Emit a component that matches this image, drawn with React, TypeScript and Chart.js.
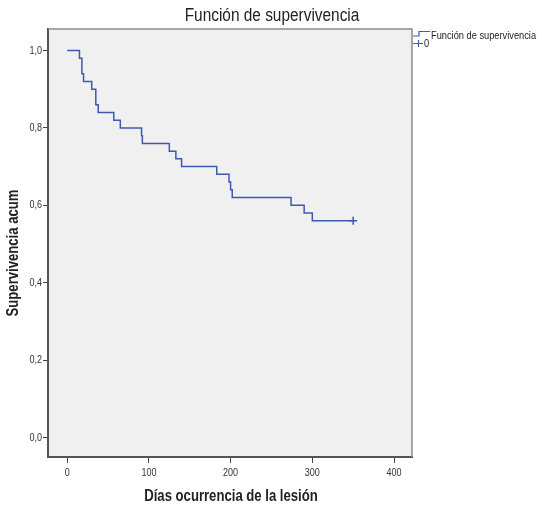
import React, { useEffect, useRef } from 'react';
import { Chart, registerables } from 'chart.js';

Chart.register(...registerables);

const survTimes = [0, 15, 18, 20, 30, 35, 38, 57, 65, 91, 92, 125, 133, 140, 183, 198, 200, 202, 274, 290, 300, 350];
const survValues = [1.0, 0.98, 0.94, 0.92, 0.9, 0.86, 0.84, 0.82, 0.8, 0.78, 0.76, 0.74, 0.72, 0.7, 0.68, 0.66, 0.64, 0.62, 0.6, 0.58, 0.56, 0.56];
const censorTimes = [350];
const censorValues = [0.56];
const xTicks = [0, 100, 200, 300, 400];
const yTicks = [0, 0.2, 0.4, 0.6, 0.8, 1.0];
const titleText = 'Función de supervivencia';
const xTitle = 'Días ocurrencia de la lesión';
const yTitle = 'Supervivencia acum';
const legendLabels = ['Función de supervivencia', '0'];

const FONT = "'Liberation Sans', Arial, sans-serif";
const LINE = '#4059b0';
const SX = 0.82;

function condensed(ctx: CanvasRenderingContext2D, text: string, x: number, y: number, font: string, align: CanvasTextAlign, rot = 0) {
  ctx.save();
  ctx.translate(x, y);
  if (rot) ctx.rotate(rot);
  ctx.scale(SX, 1);
  ctx.font = font;
  ctx.textAlign = align;
  ctx.textBaseline = 'middle';
  ctx.fillText(text, 0, 0);
  ctx.restore();
}

export default function App() {
  const ref = useRef<HTMLCanvasElement>(null);
  useEffect(() => {
    document.body.style.margin = '0';
    const canvas = ref.current!;
    const deco = {
      id: 'deco',
      beforeDraw(chart: any) {
        const { ctx, chartArea: a } = chart;
        ctx.save();
        ctx.fillStyle = '#ffffff';
        ctx.fillRect(0, 0, chart.width, chart.height);
        ctx.fillStyle = '#f0f0f0';
        ctx.fillRect(a.left, a.top, a.right - a.left, a.bottom - a.top);
        ctx.restore();
      },
      afterDraw(chart: any) {
        const { ctx, chartArea: a } = chart;
        const xs = chart.scales.x;
        const ys = chart.scales.y;
        ctx.save();
        // top & right frame
        ctx.strokeStyle = '#8a8a8a';
        ctx.lineWidth = 1.5;
        ctx.beginPath();
        ctx.moveTo(a.left, a.top);
        ctx.lineTo(a.right, a.top);
        ctx.lineTo(a.right, a.bottom);
        ctx.stroke();
        // tick labels
        ctx.fillStyle = '#333';
        const tf = `11px ${FONT}`;
        xTicks.forEach((v) => condensed(ctx, String(v), xs.getPixelForValue(v), 473, tf, 'center'));
        yTicks.forEach((v) => condensed(ctx, v.toFixed(1).replace('.', ','), 42, ys.getPixelForValue(v), tf, 'right'));
        // title
        ctx.fillStyle = '#222';
        condensed(ctx, titleText, 272, 16, `18.8px ${FONT}`, 'center');
        // axis titles
        condensed(ctx, xTitle, 231, 497, `bold 16px ${FONT}`, 'center');
        condensed(ctx, yTitle, 14, 253, `bold 16px ${FONT}`, 'center', -Math.PI / 2);
        // legend
        ctx.strokeStyle = LINE;
        ctx.lineWidth = 1.2;
        ctx.beginPath();
        ctx.moveTo(413, 36);
        ctx.lineTo(419, 36);
        ctx.lineTo(419, 31.5);
        ctx.lineTo(430, 31.5);
        ctx.stroke();
        ctx.beginPath();
        ctx.moveTo(413, 43.5);
        ctx.lineTo(423, 43.5);
        ctx.moveTo(418.5, 40);
        ctx.lineTo(418.5, 47);
        ctx.stroke();
        ctx.fillStyle = '#222';
        condensed(ctx, legendLabels[0], 431, 36, `11.3px ${FONT}`, 'left');
        condensed(ctx, legendLabels[1], 424, 44, `11.3px ${FONT}`, 'left');
        ctx.restore();
      },
    };
    const chart = new Chart(canvas, {
      type: 'line',
      data: {
        datasets: [
          {
            label: legendLabels[0],
            data: survTimes.map((t, i) => ({ x: t, y: survValues[i] })),
            stepped: 'before',
            borderColor: LINE,
            borderWidth: 1.5,
            pointRadius: 0,
            fill: false,
          },
          {
            label: legendLabels[1],
            data: censorTimes.map((t, i) => ({ x: t, y: censorValues[i] })),
            showLine: false,
            pointStyle: 'cross',
            pointRadius: 4,
            borderColor: LINE,
            backgroundColor: LINE,
            borderWidth: 1.5,
          },
        ],
      },
      options: {
        animation: false,
        responsive: false,
        layout: { padding: { top: 29, right: 130, left: 0, bottom: 0 } },
        plugins: {
          legend: { display: false },
          title: { display: false },
          tooltip: { enabled: false },
        },
        scales: {
          x: {
            type: 'linear',
            min: -23.5,
            max: 422,
            afterFit: (s: any) => { s.height = 51; },
            afterBuildTicks: (s: any) => { s.ticks = xTicks.map((v) => ({ value: v })); },
            grid: { drawOnChartArea: false, drawTicks: true, tickLength: 6, color: '#444' },
            border: { display: true, color: '#555', width: 2 },
            ticks: { font: { family: FONT, size: 10 }, color: 'rgba(0,0,0,0)', padding: 3, maxRotation: 0, autoSkip: false },
          },
          y: {
            type: 'linear',
            min: -0.0504,
            max: 1.0556,
            afterFit: (s: any) => { s.width = 48; },
            afterBuildTicks: (s: any) => { s.ticks = yTicks.map((v) => ({ value: v })); },
            grid: { drawOnChartArea: false, drawTicks: true, tickLength: 5, color: '#444' },
            border: { display: true, color: '#555', width: 2 },
            ticks: {
              font: { family: FONT, size: 10 },
              color: 'rgba(0,0,0,0)',
              padding: 2,
              autoSkip: false,
              callback: (v: any) => Number(v).toFixed(1).replace('.', ','),
            },
          },
        },
      },
      plugins: [deco],
    });
    return () => chart.destroy();
  }, []);
  return <canvas ref={ref} width={542} height={508} style={{ display: 'block' }} />;
}
